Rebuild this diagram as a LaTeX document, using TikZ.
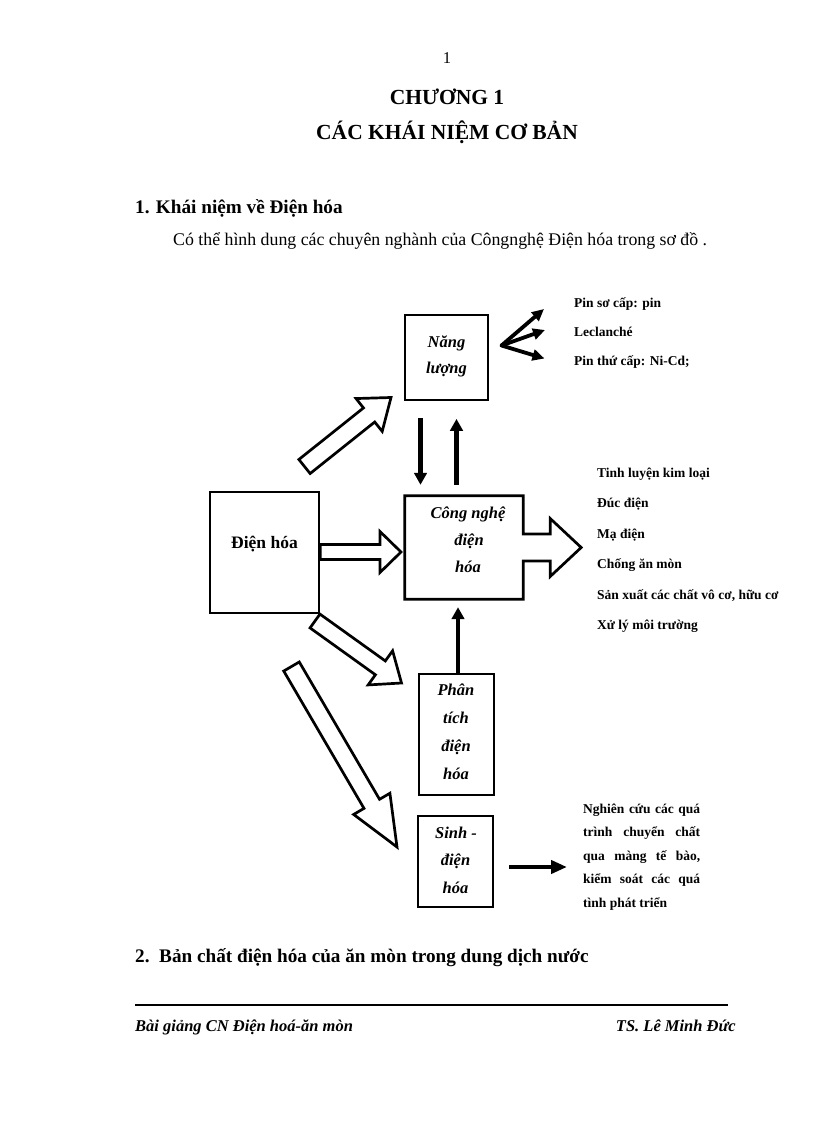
\documentclass[tikz,border=0pt]{standalone}
\usepackage{fontspec}
\setmainfont{Liberation Serif}
\usetikzlibrary{calc,arrows.meta}
\newcommand\hollowarrow[5]{%
  \path ($(#2)!#5!(#1)$) coordinate (hb);
  \draw[hollow] ($(#1)!#3!90:(#2)$) -- ($(hb)!#3!-90:(#1)$) -- ($(hb)!#4!-90:(#1)$) -- (#2)
    -- ($(hb)!#4!90:(#1)$) -- ($(hb)!#3!90:(#1)$) -- ($(#1)!#3!-90:(#2)$) -- cycle;}
\begin{document}
\begin{tikzpicture}[x=1pt,y=-1pt,
  bx/.style={draw, line width=2.7pt, inner sep=0pt},
  bxt/.style={font=\fontsize{16.5}{20}\selectfont\bfseries\itshape, inner sep=0pt, anchor=base},
  lbl/.style={font=\fontsize{13.5}{16}\selectfont\bfseries, inner sep=0pt, anchor=base west},
  body/.style={font=\fontsize{17.8}{21}\selectfont, inner sep=0pt, anchor=base west},
  head/.style={font=\fontsize{19.2}{23}\selectfont\bfseries, inner sep=0pt, anchor=base west},
  title/.style={font=\fontsize{21.5}{26}\selectfont\bfseries, inner sep=0pt, anchor=base},
  foot/.style={font=\fontsize{16.5}{20}\selectfont\bfseries\itshape, inner sep=0pt},
  hollow/.style={draw, line width=2.7pt, line join=miter, miter limit=10},
  thickarr/.style={line width=4.2pt, -{Triangle[length=12pt,width=12.5pt]}},
  fanarr/.style={line width=3.8pt, line cap=round, -{Triangle[length=12pt,width=11pt]}},
]
\path[use as bounding box, fill=white] (0,0) rectangle (816,1123);

% page header
\node[font=\fontsize{16.5}{20}\selectfont, inner sep=0pt, anchor=base] (pg) at (447,63.5) {1};
\node[title] (t1) at (447,105) {CHƯƠNG 1};
\node[title] (t2) at (447,140) {CÁC KHÁI NIỆM CƠ BẢN};
\node[head] (h1) at (135,214) {1. Khái niệm về Điện hóa};
\node[body] (b1) at (173,245) {Có thể hình dung các chuyên nghành của Côngnghệ Điện hóa trong sơ đồ .};

% boxes
\node[bx, minimum width=83pt, minimum height=85pt] (nl) at (446.5,357.5) {};
\node[bxt] (nl1) at (446.5,347) {Năng};
\node[bxt] (nl2) at (446.5,373) {lượng};

\node[bx, minimum width=109pt, minimum height=121pt] (dh) at (264.5,552.5) {};
\node[font=\fontsize{17.5}{21}\selectfont\bfseries, inner sep=0pt, anchor=base] (dht) at (264.5,548) {Điện hóa};

\node[minimum width=118pt, minimum height=103pt, inner sep=0pt] (cn) at (464,547.5) {};
\draw[line width=2.7pt, line join=miter] (cn.north west) -- (cn.north east) -- ($(cn.east)+(0,-13.5)$)
  -- ($(cn.east)+(27,-13.5)$) -- ($(cn.east)+(27,-29)$) -- ($(cn.east)+(58,0)$)
  -- ($(cn.east)+(27,29)$) -- ($(cn.east)+(27,13.5)$) -- ($(cn.east)+(0,13.5)$)
  -- (cn.south east) -- (cn.south west) -- cycle;
\node[bxt] (cn1) at (468,518) {Công nghệ};
\node[bxt] (cn2) at (469,545) {điện};
\node[bxt] (cn3) at (468,572.5) {hóa};

\node[bx, minimum width=75pt, minimum height=121pt] (pt) at (456.5,734.5) {};
\node[bxt] (pt1) at (456,695) {Phân};
\node[bxt] (pt2) at (456,723) {tích};
\node[bxt] (pt3) at (456,751) {điện};
\node[bxt] (pt4) at (456,779) {hóa};

\node[bx, minimum width=75pt, minimum height=91pt] (sh) at (455.5,861.5) {};
\node[bxt] (sh1) at (456,838) {Sinh -};
\node[bxt] (sh2) at (455.5,865.5) {điện};
\node[bxt] (sh3) at (455.5,893) {hóa};

% hollow arrows
\coordinate (a1s) at (304.5,466.5); \coordinate (a1e) at (391,397.5);
\coordinate (a2s) at (dh.east |- 0,552); \coordinate (a2e) at (401,552);
\coordinate (a3s) at (315,621); \coordinate (a3e) at (401.5,683);
\coordinate (a4s) at (291.5,666.5); \coordinate (a4e) at (397,847);
\hollowarrow{a1s}{a1e}{9pt}{21pt}{28pt}
\hollowarrow{a2s}{a2e}{7.5pt}{20.5pt}{21pt}
\hollowarrow{a3s}{a3e}{8.5pt}{21pt}{26pt}
\hollowarrow{a4s}{a4e}{9pt}{21pt}{50pt}

% thick arrows
\draw[thickarr] ($(nl.south)+(-26,17)$) -- ($(cn.north)+(-43.5,-11)$);
\draw[thickarr] ($(cn.north)+(-7.5,-11)$) -- ($(nl.south)+(10,17.5)$);
\draw[thickarr] ($(pt.north)+(1.5,0)$) -- ($(cn.south)+(-6,8)$);

\coordinate (fan) at (501.5,345.5);
\coordinate (f1) at (544,309);
\coordinate (f2) at (545,330);
\coordinate (f3) at (544.5,358.5);
\draw[fanarr] (fan) -- (f1);
\draw[fanarr] (fan) -- (f2);
\draw[fanarr] (fan) -- (f3);

\coordinate (sa) at (567,867);
\draw[line width=4pt, -{Triangle[length=16pt,width=13pt]}] ($(sh.east)+(15,5.5)$) -- (sa);

% labels
\node[lbl] (p1) at (574,307) {Pin sơ cấp: pin};
\node[lbl] (p2) at (574,336) {Leclanché};
\node[lbl] (p3) at (574,365) {Pin thứ cấp: Ni-Cd;};

\node[lbl] (c1) at (597,477) {Tinh luyện kim loại};
\node[lbl] (c2) at (597,507.5) {Đúc điện};
\node[lbl] (c3) at (597,538) {Mạ điện};
\node[lbl] (c4) at (597,568.5) {Chống ăn mòn};
\node[lbl] (c5) at (597,599) {Sản xuất các chất vô cơ, hữu cơ};
\node[lbl] (c6) at (597,629.5) {Xử lý môi trường};

\node[lbl] (n1) at (583,813) {\hbox to 117pt{Nghiên\hfill cứu\hfill các\hfill quá}};
\node[lbl] (n2) at (583,836.5) {\hbox to 117pt{trình\hfill chuyển\hfill chất}};
\node[lbl] (n3) at (583,860) {\hbox to 117pt{qua\hfill màng\hfill tế\hfill bào,}};
\node[lbl] (n4) at (583,883.5) {\hbox to 117pt{kiểm\hfill soát\hfill các\hfill quá}};
\node[lbl] (n5) at (583,907) {tình phát triển};

% section 2 and footer
\node[head] (h2) at (135,962) {2.\ \ Bản chất điện hóa của ăn mòn trong dung dịch nước};
\coordinate (fl) at (135,1005); \coordinate (fr) at (728,1005);
\draw[line width=1.3pt] (fl) -- (fr);
\node[foot, anchor=base west] (fa) at (135,1031) {Bài giảng CN Điện hoá-ăn mòn};
\node[foot, anchor=base east] (fb) at (736,1031) {TS. Lê Minh Đức};
\end{tikzpicture}
\end{document}
